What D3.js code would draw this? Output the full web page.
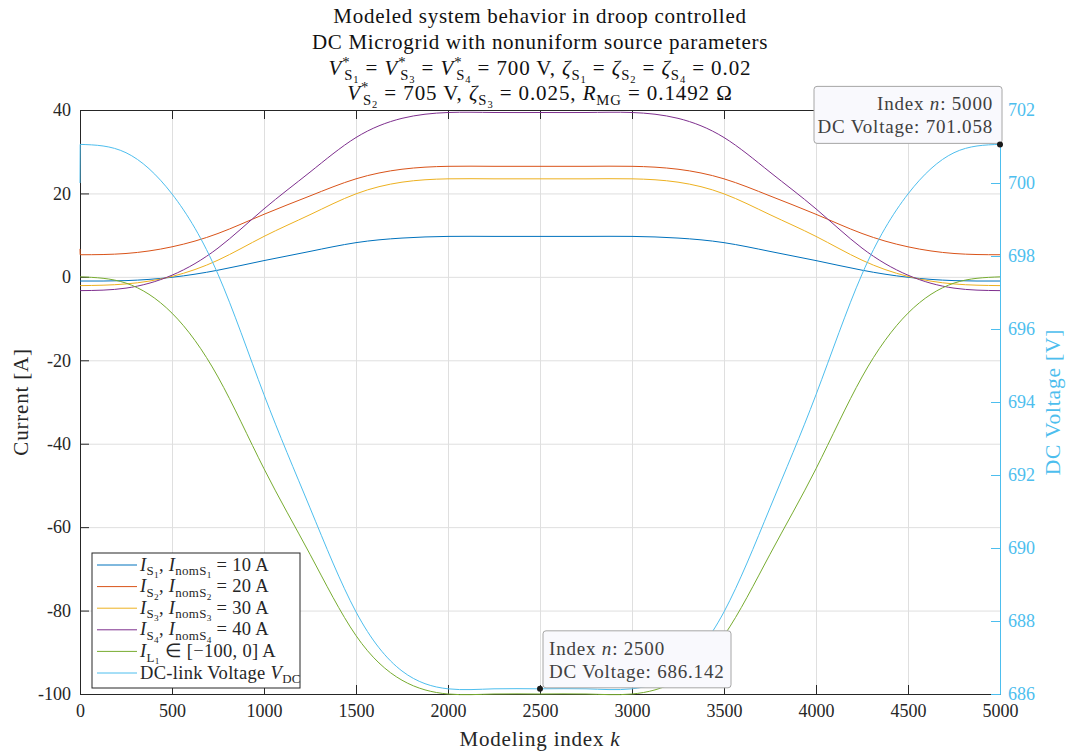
<!DOCTYPE html>
<meta charset="utf-8">
<script src="https://cdn.jsdelivr.net/npm/d3@7"></script>
<style>
  body { margin: 0; background: #fff; }
  text { font-family: "Liberation Serif", serif; white-space: pre; }
</style>
<div id="chart"></div>
<script>

// data
var kIndex = [0, 1, 250, 500, 750, 1000, 1250, 1500, 1750, 2000, 2250, 2500, 2750,
              3000, 3250, 3500, 3750, 4000, 4250, 4500, 4750, 5000];
var iS1 = [-1.0, -1.0, -0.9, -0.1, 1.6, 3.9, 6.1, 8.2, 9.3, 9.7, 9.7, 9.7, 9.7,
           9.7, 9.3, 8.2, 6.1, 3.9, 1.6, -0.1, -0.9, -1.0];
var iS2 = [6.7, 5.3, 5.6, 7.2, 10.4, 15.0, 19.4, 23.5, 25.8, 26.5, 26.5, 26.5, 26.5,
           26.5, 25.8, 23.5, 19.4, 15.0, 10.4, 7.2, 5.6, 5.3];
var iS3 = [-2.1, -2.1, -1.7, 0.1, 4.0, 9.7, 14.9, 19.9, 22.7, 23.5, 23.5, 23.5, 23.5,
           23.5, 22.7, 19.9, 14.9, 9.7, 4.0, 0.1, -1.7, -2.1];
var iS4 = [-3.3, -3.3, -2.7, 0.4, 6.9, 16.3, 25.1, 33.4, 38.0, 39.4, 39.4, 39.4, 39.4,
           39.4, 38.0, 33.4, 25.1, 16.3, 6.9, 0.4, -2.7, -3.3];
var iL1 = [0, 0, -1.5, -8.7, -24, -46, -66.5, -86, -96.7, -100, -100, -100, -100,
           -100, -96.7, -86, -66.5, -46, -24, -8.7, -1.5, 0];
var vDC = [700.0, 701.058, 700.83, 699.7, 697.5, 694.2, 691.1, 688.25, 686.63, 686.142, 686.142, 686.142, 686.142,
           686.142, 686.63, 688.25, 691.1, 694.2, 697.5, 699.7, 700.83, 701.058];

var xTicks = [0, 500, 1000, 1500, 2000, 2500, 3000, 3500, 4000, 4500, 5000];
var yTicks = [-100, -80, -60, -40, -20, 0, 20, 40];
var vTicks = [686, 688, 690, 692, 694, 696, 698, 700, 702];
var tipIndex = [2500, 5000];

var colors = ["#0072BD", "#D95319", "#EDB120", "#7E2F8E", "#77AC30", "#4DBEEE"];
var axisColor = "#262626";
var serif = "Liberation Serif, serif";

var margin = {top: 110, right: 70, bottom: 60, left: 80},
    width = 1070 - margin.left - margin.right,
    height = 754 - margin.top - margin.bottom;

var root = d3.select("#chart")
  .append("svg")
    .attr("width", 1070)
    .attr("height", 754);

var svg = root.append("g")
    .attr("transform", "translate(" + margin.left + "," + margin.top + ")");

var x = d3.scaleLinear().domain([0, 5000]).range([0, width]);
var y = d3.scaleLinear().domain([-100, 40]).range([height, 0]);
var yV = d3.scaleLinear().domain([686, 702]).range([height, 0]);

// rich text: [text, style, dx(em)]
var styles = {
  n:   {size: 1,   shift: 0},
  i:   {size: 1,   shift: 0, italic: true},
  sub: {size: 0.7, shift: 0.25},
  ss:  {size: 0.5, shift: 0.4},
  sup: {size: 0.7, shift: -0.4}
};
function rich(t, parts, F) {
  var off = 0;
  t.attr("font-family", serif);
  parts.forEach(function(p) {
    var st = styles[p[1] || "n"];
    var target = st.shift * F;
    var ts = t.append("tspan")
      .attr("font-size", st.size * F)
      .attr("dy", target - off)
      .text(p[0]);
    if (p[2]) ts.attr("dx", p[2] * F);
    if (st.italic) ts.attr("font-style", "italic");
    off = target;
  });
  return t;
}

// white plot area
svg.append("rect")
  .attr("width", width).attr("height", height)
  .attr("fill", "#fff");

// grid
svg.append("g")
  .attr("class", "grid")
  .attr("transform", "translate(0," + height + ")")
  .call(d3.axisBottom(x).tickValues(xTicks).tickSize(-height).tickFormat(""))
  .call(function(g) { g.select(".domain").remove(); });
svg.append("g")
  .attr("class", "grid")
  .call(d3.axisLeft(y).tickValues(yTicks).tickSize(-width).tickFormat(""))
  .call(function(g) { g.select(".domain").remove(); });
svg.selectAll(".grid line").attr("stroke", "#dfdfdf").attr("stroke-width", 1);

// axes
var fmt = function(d) { return String(d); };
var xAxis = svg.append("g")
  .attr("transform", "translate(0," + height + ")")
  .call(d3.axisBottom(x).tickValues(xTicks).tickSize(-9).tickPadding(8).tickFormat(fmt));
svg.append("g")
  .call(d3.axisTop(x).tickValues(xTicks).tickSize(-9).tickFormat(""))
  .call(function(g) { g.selectAll("line, path").attr("stroke", axisColor); });
var yAxis = svg.append("g")
  .call(d3.axisLeft(y).tickValues(yTicks).tickSize(-9).tickPadding(9).tickFormat(fmt));
var vAxis = svg.append("g")
  .attr("transform", "translate(" + width + ",0)")
  .call(d3.axisRight(yV).tickValues(vTicks).tickSize(-9).tickPadding(8).tickFormat(fmt));

[xAxis, yAxis].forEach(function(a) {
  a.selectAll("line, path").attr("stroke", axisColor);
  a.selectAll("text").attr("fill", axisColor).attr("font-size", 18)
    .attr("font-family", serif);
});
vAxis.selectAll("line, path").attr("stroke", colors[5]);
vAxis.selectAll("text").attr("fill", colors[5]).attr("font-size", 18)
  .attr("font-family", serif);
xAxis.selectAll("text").attr("dy", "0.85em");

// lines: first sample (k=0) joins straight, the rest is a smooth spline
function seriesPath(s, scale) {
  var smooth = d3.line()
    .x(function(d, j) { return x(kIndex[j + 1]); })
    .y(function(d) { return scale(d); })
    .curve(d3.curveNatural)(s.slice(1));
  return "M" + x(kIndex[0]) + "," + scale(s[0]) + smooth.replace(/^M/, "L");
}
var series = [iS1, iS2, iS3, iS4, iL1];
series.forEach(function(s, i) {
  svg.append("path")
    .attr("fill", "none")
    .attr("stroke", colors[i])
    .attr("stroke-width", 1)
    .attr("d", seriesPath(s, y));
});
svg.append("path")
  .attr("fill", "none")
  .attr("stroke", colors[5])
  .attr("stroke-width", 1)
  .attr("d", seriesPath(vDC, yV));

// axis labels
rich(root.append("text")
  .attr("x", margin.left + width / 2).attr("y", 746)
  .attr("text-anchor", "middle").attr("fill", axisColor)
  .attr("letter-spacing", 0.8),
  [["Modeling index "], ["k", "i"]], 21);

root.append("text")
  .attr("transform", "translate(28," + (margin.top + height / 2) + ") rotate(-90)")
  .attr("text-anchor", "middle").attr("fill", axisColor)
  .attr("font-family", serif).attr("font-size", 21).attr("letter-spacing", 0.8)
  .text("Current [A]");

root.append("text")
  .attr("transform", "translate(1060," + (margin.top + height / 2) + ") rotate(-90)")
  .attr("text-anchor", "middle").attr("fill", colors[5])
  .attr("font-family", serif).attr("font-size", 21.5).attr("letter-spacing", 0.8)
  .text("DC Voltage [V]");

// title
var tx = margin.left + width / 2, TF = 21;
root.append("text").attr("x", tx).attr("y", 23).attr("text-anchor", "middle")
  .attr("font-family", serif).attr("font-size", TF).attr("letter-spacing", 0.7)
  .attr("fill", "#111").text("Modeled system behavior in droop controlled");
root.append("text").attr("x", tx).attr("y", 49).attr("text-anchor", "middle")
  .attr("font-family", serif).attr("font-size", TF).attr("letter-spacing", 0.7)
  .attr("fill", "#111").text("DC Microgrid with nonuniform source parameters");
var bk = -0.3;
rich(root.append("text").attr("x", tx).attr("y", 75).attr("text-anchor", "middle")
  .attr("fill", "#111").attr("letter-spacing", 0.9),
  [["V", "i"], ["*", "sup"], ["S", "sub", bk], ["1", "ss"], [" = "],
   ["V", "i"], ["*", "sup"], ["S", "sub", bk], ["3", "ss"], [" = "],
   ["V", "i"], ["*", "sup"], ["S", "sub", bk], ["4", "ss"], [" = 700 V, "],
   ["ζ", "i"], ["S", "sub"], ["1", "ss"], [" = "],
   ["ζ", "i"], ["S", "sub"], ["2", "ss"], [" = "],
   ["ζ", "i"], ["S", "sub"], ["4", "ss"], [" = 0.02"]], TF);
rich(root.append("text").attr("x", tx).attr("y", 100).attr("text-anchor", "middle")
  .attr("fill", "#111").attr("letter-spacing", 0.9),
  [["V", "i"], ["*", "sup"], ["S", "sub", bk], ["2", "ss"], [" = 705 V, "],
   ["ζ", "i"], ["S", "sub"], ["3", "ss"], [" = 0.025, "],
   ["R", "i"], ["MG", "sub"], [" = 0.1492 Ω"]], TF);

// legend
var legendItems = [
  [["I", "i"], ["S", "sub"], ["1", "ss"], [", "], ["I", "i"], ["nomS", "sub"], ["1", "ss"], [" = 10 A"]],
  [["I", "i"], ["S", "sub"], ["2", "ss"], [", "], ["I", "i"], ["nomS", "sub"], ["2", "ss"], [" = 20 A"]],
  [["I", "i"], ["S", "sub"], ["3", "ss"], [", "], ["I", "i"], ["nomS", "sub"], ["3", "ss"], [" = 30 A"]],
  [["I", "i"], ["S", "sub"], ["4", "ss"], [", "], ["I", "i"], ["nomS", "sub"], ["4", "ss"], [" = 40 A"]],
  [["I", "i"], ["L", "sub"], ["1", "ss"], [" ∈ [−100, 0] A"]],
  [["DC-link Voltage "], ["V", "i"], ["DC", "sub"]]
];
var lg = svg.append("g").attr("transform", "translate(12," + (height - 141) + ")");
lg.append("rect")
  .attr("width", 208).attr("height", 135)
  .attr("fill", "#fff").attr("stroke", axisColor).attr("stroke-width", 1);
legendItems.forEach(function(parts, i) {
  var ly = 12 + i * 21.6;
  lg.append("line")
    .attr("x1", 5).attr("x2", 45).attr("y1", ly).attr("y2", ly)
    .attr("stroke", colors[i]).attr("stroke-width", 1);
  rich(lg.append("text").attr("x", 48).attr("y", ly + 5.5).attr("fill", axisColor)
    .attr("letter-spacing", 0.3), parts, 18.5);
});

// data tips
tipIndex.forEach(function(k, n) {
  var j = kIndex.indexOf(k);
  var px = x(k), py = yV(vDC[j]);
  var bw = 188, bh = 57;
  var bx = n === 0 ? px + 3 : px + 2 - bw;
  var by = py - 1 - bh;
  var tip = svg.append("g");
  tip.append("rect")
    .attr("x", bx).attr("y", by).attr("width", bw).attr("height", bh)
    .attr("rx", 3)
    .attr("fill", "#f9f9fd").attr("stroke", "#a6a6a6").attr("stroke-width", 1);
  var anchor = n === 0 ? "start" : "end";
  var tx2 = n === 0 ? bx + 6 : bx + bw - 9;
  rich(tip.append("text").attr("x", tx2).attr("y", by + 24).attr("text-anchor", anchor)
    .attr("fill", "#404040").attr("letter-spacing", 0.8),
    [["Index "], ["n", "i"], [": " + k]], 19);
  tip.append("text").attr("x", tx2).attr("y", by + 47).attr("text-anchor", anchor)
    .attr("fill", "#404040").attr("font-family", serif).attr("font-size", 19)
    .attr("letter-spacing", 0.8)
    .text("DC Voltage: " + vDC[j].toFixed(3));
  tip.append("circle")
    .attr("cx", px).attr("cy", py).attr("r", 3)
    .attr("fill", "#1a1a1a");
});

</script>
